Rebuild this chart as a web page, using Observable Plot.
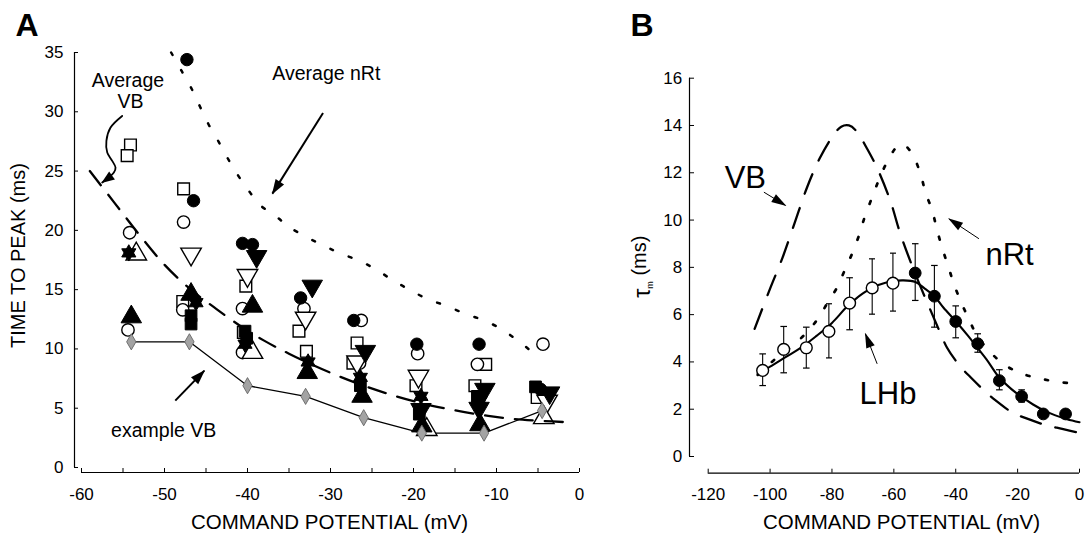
<!DOCTYPE html>
<html><head><meta charset="utf-8">
<script src="https://cdn.jsdelivr.net/npm/d3@7"></script>
<script src="https://cdn.jsdelivr.net/npm/@observablehq/plot@0.6"></script>
<style>
html,body{margin:0;padding:0;background:#fff;}
#wrap{position:relative;width:1086px;height:533px;overflow:hidden;background:#fff;}
#wrap svg{position:absolute;top:0;}
</style></head><body><div id="wrap"></div>
<script>
// ================= PANEL A DATA (command potential mV, time to peak ms) =================
const xTicksA = [-60, -55, -50, -45, -40, -35, -30, -25, -20, -15, -10, -5, 0];
const yTicksA = [0, 5, 10, 15, 20, 25, 30, 35];

const aOpenSquare = [[-54.1,27.2],[-54.5,26.3],[-47.7,23.5],[-47.8,14.0],[-40.2,15.3],[-40.5,11.4],[-33.8,11.5],[-32.9,9.8],[-26.8,10.5],[-27.3,8.8],[-19.7,6.9],[-12.6,6.9],[-11.3,8.7],[-5.1,5.9]];
const aOpenCircle = [[-54.2,19.8],[-54.4,11.6],[-47.7,20.7],[-47.8,13.3],[-40.6,13.4],[-40.6,9.7],[-33.2,13.4],[-26.3,12.4],[-26.5,8.8],[-19.5,9.6],[-12.3,8.7],[-4.4,10.4]];
const aOpenDown = [[-46.8,18.0],[-40.0,16.2],[-33.0,12.6],[-26.8,8.9],[-19.4,7.7],[-3.9,5.6]];
const aOpenUp = [[-53.4,18.0],[-39.4,9.7],[-18.4,3.2],[-4.3,4.2]];
const aFilledCircle = [[-47.3,34.4],[-46.5,22.5],[-40.6,18.9],[-39.4,18.8],[-33.6,14.3],[-27.2,12.4],[-19.6,10.4],[-12.1,10.4],[-4.7,6.6]];
const aFilledDown = [[-38.9,17.8],[-32.2,15.3],[-25.8,9.8],[-19.1,4.9],[-11.4,6.6],[-12.1,5.0],[-3.6,6.3]];
const aFilledUp = [[-54.0,12.7],[-46.8,14.6],[-39.4,13.6],[-32.8,8.0],[-26.2,6.0],[-19.0,3.5],[-12.0,3.6]];
const aFilledSquare = [[-46.8,12.8],[-46.8,12.1],[-40.3,11.5],[-40.1,10.9],[-26.4,6.9],[-19.3,4.5],[-12.3,6.0],[-5.3,6.8]];
const aFilledStar = [[-54.3,18.1],[-46.2,13.9],[-40.3,10.4],[-32.7,8.9],[-26.4,7.6],[-19.1,6.0],[-12.0,5.6]];
const exampleVB = [[-54,10.6],[-47,10.6],[-40,6.9],[-33,6.0],[-26,4.2],[-19,2.9],[-11.5,2.9],[-4.5,4.8]];

const averageVB = [[-59,25.0],[-56,22.3],[-53,19.6],[-50,17.1],[-47,15.1],[-44,13.5],[-41,12.0],[-38,10.7],[-35,9.6],[-32,8.6],[-29,7.7],[-26,6.9],[-23,6.2],[-20,5.6],[-17,5.1],[-14,4.7],[-11,4.35],[-8,4.1],[-5,3.95],[-1,3.8]];
const averageNRt = [[-49.2,35.0],[-47.9,33.4],[-46.7,31.9],[-45.7,30.4],[-44.7,28.95],[-43.5,27.5],[-42.4,26.1],[-41.2,24.7],[-39.8,23.3],[-38.6,22.2],[-36.6,21.2],[-34.8,20.2],[-30.8,18.7],[-28.6,18.0],[-26.4,17.4],[-24.4,16.65],[-22.4,15.75],[-20.4,14.97],[-18.3,14.2],[-16.1,13.65],[-13.9,13.0],[-11.9,12.5],[-9.7,11.8],[-7.7,10.84],[-5.9,9.86]];

const labelsA = [
  {text: "Average", x: -54.4, y: 32.05},
  {text: "VB", x: -54.1, y: 30.33},
  {text: "Average nRt", x: -30.5, y: 32.7},
  {text: "example VB", x: -50.1, y: 2.55}
];
const arrowsA = [
  {x1: -30.9, y1: 29.9, x2: -37.0, y2: 23.1},
  {x1: -48.7, y1: 5.64, x2: -45.2, y2: 8.17}
];
const curvyArrowA = [[-55.1,29.65],[-56.5,28.67],[-57.0,27.55],[-56.9,26.56],[-56.3,25.86],[-55.9,25.3],[-56.1,24.87],[-57.5,24.04]];

// ================= PANEL B DATA (command potential mV, tau_m ms) =================
const xTicksB = [-120, -100, -80, -60, -40, -20, 0];
const yTicksB = [0, 2, 4, 6, 8, 10, 12, 14, 16];

const lhbV   = [-102.4,-95.6,-88.3,-81.0,-74.3,-67.0,-60.3,-53.1,-46.9,-40.0,-32.9,-25.9,-18.7,-11.7,-4.5];
const lhbTau = [3.64,4.53,4.6,5.29,6.49,7.13,7.33,7.76,6.78,5.71,4.77,3.21,2.54,1.80,1.80];
const lhbHi  = [4.34,5.5,5.47,6.46,7.56,8.36,8.6,9.0,8.08,6.37,5.19,3.67,2.82,null,null];
const lhbLo  = [3.0,3.54,3.74,4.17,5.36,6.02,6.15,6.6,5.47,5.02,4.41,2.82,2.3,null,null];
const lhbOpen = [true,true,true,true,true,true,true,false,false,false,false,false,false,false,false];

const lhbFit = [[-104,3.5],[-100,3.8],[-95,4.2],[-90,4.6],[-85,5.1],[-80,5.65],[-75,6.35],[-70,6.9],[-65,7.25],[-60,7.42],[-57,7.45],[-53,7.38],[-50,7.1],[-47,6.8],[-44,6.3],[-40,5.72],[-36,5.1],[-33,4.6],[-30,4.1],[-26,3.35],[-22,2.85],[-19,2.55],[-15,2.2],[-11.5,1.95],[-8,1.75],[-4,1.58],[0,1.45]];
const vbFit = [[-105,5.4],[-100,7.1],[-96,8.4],[-92,9.9],[-88,11.4],[-84,12.6],[-80,13.5],[-77,13.95],[-74.5,14.0],[-72,13.75],[-69,13.1],[-65.4,12.2],[-61.1,10.8],[-57.9,9.42],[-53,7.7],[-48.2,6.2],[-44.9,5.2],[-42.8,4.6],[-38.5,3.8],[-35.2,3.35],[-30.9,2.8],[-27.1,2.37],[-21.8,1.87],[-16.9,1.6],[-10.4,1.31],[-5.6,1.17],[0,1.0]];
const nrtFit = [[-104,3.45],[-98.3,4.13],[-93.4,4.62],[-89.1,5.12],[-84.8,5.78],[-81.3,6.53],[-78.3,7.16],[-75.9,7.87],[-73.3,8.64],[-71,9.45],[-69.5,10.1],[-67,10.97],[-64.9,11.68],[-62.2,12.45],[-59,13.1],[-57,13.2],[-54.1,12.8],[-51.4,11.96],[-49.8,11.18],[-47.6,10.4],[-46,9.56],[-44.2,8.75],[-42.2,7.95],[-40.6,7.3],[-38.5,6.6],[-35.8,5.82],[-33.1,5.12],[-28.8,4.41],[-23.9,3.85],[-18.5,3.5],[-12.6,3.29],[-6.1,3.14],[0,3.07]];

const labelsB = [
  {text: "VB", x: -108, y: 11.34},
  {text: "nRt", x: -22.6, y: 8.08},
  {text: "LHb", x: -61.9, y: 2.2}
];
const arrowsB = [
  {x1: -102.0, y1: 11.18, x2: -95.0, y2: 10.62},
  {x1: -32.5, y1: 9.21, x2: -42.2, y2: 10.05},
  {x1: -65.4, y1: 3.92, x2: -69.2, y2: 5.19}
];

// ================= helpers =================
const fontFam = "'Liberation Sans', Arial, Helvetica, sans-serif";
const xy = {x: d => d[0], y: d => d[1]};
const openStyle = {fill: "white", stroke: "black", strokeWidth: 1.4};
const solidStyle = {fill: "black", stroke: "black", strokeWidth: 1};

const triDown = {draw(ctx, size) {
  const y = -Math.sqrt(size / (Math.sqrt(3) * 3));
  ctx.moveTo(0, -y * 2);
  ctx.lineTo(-Math.sqrt(3) * y, y);
  ctx.lineTo(Math.sqrt(3) * y, y);
  ctx.closePath();
}};
const hexagram = {draw(ctx, size) {
  const r = Math.sqrt(size / Math.PI) * 1.2;
  for (const base of [-Math.PI / 2, Math.PI / 2]) {
    for (let k = 0; k < 3; k++) {
      const a = base + k * 2 * Math.PI / 3;
      const px = r * Math.cos(a), py = r * Math.sin(a);
      if (k === 0) ctx.moveTo(px, py); else ctx.lineTo(px, py);
    }
    ctx.closePath();
  }
}};
function filledArrow(len, wid) {
  return (color) => {
    const m = d3.create("svg:marker")
      .attr("viewBox", `0 ${-wid / 2} ${len} ${wid}`)
      .attr("markerUnits", "userSpaceOnUse")
      .attr("markerWidth", len).attr("markerHeight", wid)
      .attr("refX", len - 1).attr("refY", 0)
      .attr("orient", "auto")
      .attr("overflow", "visible");
    m.append("path").attr("d", `M0,${-wid / 2}L${len},0L0,${wid / 2}Z`)
      .attr("fill", color === "currentColor" ? "black" : color).attr("stroke", "none");
    return m.node();
  };
}

// ================= PANEL A =================
const plotA = Plot.plot({
  width: 600, height: 533,
  marginLeft: 74, marginRight: 21, marginTop: 52, marginBottom: 61,
  x: {domain: [-60, 0], insetLeft: 7},
  y: {domain: [0, 35], insetBottom: 5},
  style: {fontFamily: fontFam, fontSize: "17px", background: "white", color: "black", overflow: "visible"},
  marks: [
    Plot.ruleX([-60], {y1: 0, y2: 35, dx: -7, strokeWidth: 1.2}),
    Plot.ruleY([0], {x1: -60, x2: 0, dy: 5, strokeWidth: 1.2}),
    Plot.axisY(yTicksA, {tickSize: -4, tickPadding: 15, fontSize: 17, label: null, tickFormat: d => String(d)}),
    Plot.axisX(xTicksA, {tickSize: -4, tickPadding: 19, fontSize: 17, label: null, tickFormat: d => d % 10 === 0 ? String(d) : ""}),
    Plot.line(exampleVB, {...xy, stroke: "black", strokeWidth: 1.3}),
    Plot.dot(aOpenSquare, {...xy, symbol: "square", r: 6.6, ...openStyle}),
    Plot.dot(aOpenCircle, {...xy, r: 6.2, ...openStyle}),
    Plot.dot(aOpenDown, {...xy, symbol: triDown, r: 7.6, ...openStyle}),
    Plot.dot(aOpenUp, {...xy, symbol: "triangle", r: 7.6, ...openStyle}),
    Plot.dot(aFilledSquare, {...xy, symbol: "square", r: 6.6, ...solidStyle}),
    Plot.dot(aFilledCircle, {...xy, r: 6.2, ...solidStyle}),
    Plot.dot(aFilledDown, {...xy, symbol: triDown, r: 7.6, ...solidStyle}),
    Plot.dot(aFilledUp, {...xy, symbol: "triangle", r: 7.6, ...solidStyle}),
    Plot.dot(aFilledStar, {...xy, symbol: hexagram, r: 6.8, ...solidStyle}),
    Plot.dot(exampleVB, {...xy, symbol: "diamond", r: 4.9, fill: "#a3a3a3", stroke: "#666", strokeWidth: 0.9}),
    Plot.line(averageVB, {...xy, curve: "catmull-rom", strokeWidth: 2.3, strokeDasharray: "18,12"}),
    Plot.line(averageNRt, {...xy, curve: "catmull-rom", strokeWidth: 2.5, strokeDasharray: "3,17"}),
    Plot.text(labelsA, {x: "x", y: "y", text: "text", fontSize: 19.5, lineAnchor: "bottom"}),
    Plot.link(arrowsA, {x1: "x1", y1: "y1", x2: "x2", y2: "y2", strokeWidth: 2, markerEnd: filledArrow(15, 10)}),
    Plot.line(curvyArrowA, {...xy, curve: "catmull-rom", strokeWidth: 1.8, markerEnd: filledArrow(13, 10)}),
    Plot.text(["A"], {frameAnchor: "top-left", dx: -59, dy: -17, textAnchor: "start", lineAnchor: "bottom", fontSize: 32, fontWeight: "bold"}),
    Plot.text(["TIME TO PEAK (ms)"], {frameAnchor: "left", rotate: -90, dx: -55.7, dy: -7, lineAnchor: "middle", textAnchor: "middle", fontSize: 20}),
    Plot.text(["COMMAND POTENTIAL (mV)"], {frameAnchor: "bottom", dx: 2.5, dy: 56, lineAnchor: "bottom", textAnchor: "middle", fontSize: 20.5})
  ]
});

// ================= PANEL B =================
const lhb = lhbV.map((v, i) => ({v, tau: lhbTau[i], hi: lhbHi[i], lo: lhbLo[i], open: lhbOpen[i]}));
const plotB = Plot.plot({
  width: 486, height: 533,
  marginLeft: 89, marginRight: 7, marginTop: 77.7, marginBottom: 60.3,
  x: {domain: [-120, 0], insetLeft: 18.7},
  y: {domain: [0, 16], insetBottom: 16.7},
  style: {fontFamily: fontFam, fontSize: "17px", background: "white", color: "black", overflow: "visible"},
  marks: [
    Plot.ruleX([-120], {y1: 0, y2: 16, dx: -18.7, strokeWidth: 1.2}),
    Plot.ruleY([0], {x1: -120, x2: 0, dy: 16.7, strokeWidth: 1.2}),
    Plot.axisY(yTicksB, {tickSize: -5, tickPadding: 12.3, fontSize: 17, label: null, tickFormat: d => String(d)}),
    Plot.axisX(xTicksB, {tickSize: -4, tickPadding: 19, fontSize: 17, label: null, tickFormat: d => String(d)}),
    Plot.line(vbFit, {...xy, curve: "catmull-rom", strokeWidth: 2.3, strokeDasharray: "21,15"}),
    Plot.line(nrtFit, {...xy, curve: "catmull-rom", strokeWidth: 2.7, strokeDasharray: "3,16"}),
    Plot.link(lhb, {x1: "v", x2: "v", y1: "lo", y2: "hi", strokeWidth: 1.1, markerStart: "tick", markerEnd: "tick"}),
    Plot.line(lhbFit, {...xy, curve: "catmull-rom", strokeWidth: 2.1}),
    Plot.dot(lhb.filter(d => d.open), {x: "v", y: "tau", r: 5.9, ...openStyle}),
    Plot.dot(lhb.filter(d => !d.open), {x: "v", y: "tau", r: 5.9, ...solidStyle}),
    Plot.text(labelsB, {x: "x", y: "y", text: "text", fontSize: 31, lineAnchor: "bottom"}),
    Plot.link(arrowsB, {x1: "x1", y1: "y1", x2: "x2", y2: "y2", strokeWidth: 1, markerEnd: filledArrow(15, 9)}),
    Plot.text(["B"], {frameAnchor: "top-left", dx: -59, dy: -41.7, textAnchor: "start", lineAnchor: "bottom", fontSize: 32, fontWeight: "bold"}),
    Plot.text(["τm (ms)"], {frameAnchor: "left", rotate: -90, dx: -46, dy: -9, lineAnchor: "middle", textAnchor: "middle", fontSize: 20}),
    Plot.text(["COMMAND POTENTIAL (mV)"], {frameAnchor: "bottom", dx: 17, dy: 55.8, lineAnchor: "bottom", textAnchor: "middle", fontSize: 20.5})
  ]
});

// subscript for tau_m
d3.select(plotB).selectAll("text").filter(function () { return this.textContent === "τm (ms)"; })
  .each(function () {
    const t = d3.select(this);
    t.text(null);
    t.append("tspan").attr("font-size", 23).text("τ");
    t.append("tspan").attr("font-size", 9).attr("dy", "0.35em").text("m");
    t.append("tspan").attr("dy", "-0.35em").attr("font-size", 20).text(" (ms)");
  });

plotA.style.left = "0px";
plotB.style.left = "600px";
const wrap = document.getElementById("wrap");
wrap.appendChild(plotA);
wrap.appendChild(plotB);
</script></body></html>
